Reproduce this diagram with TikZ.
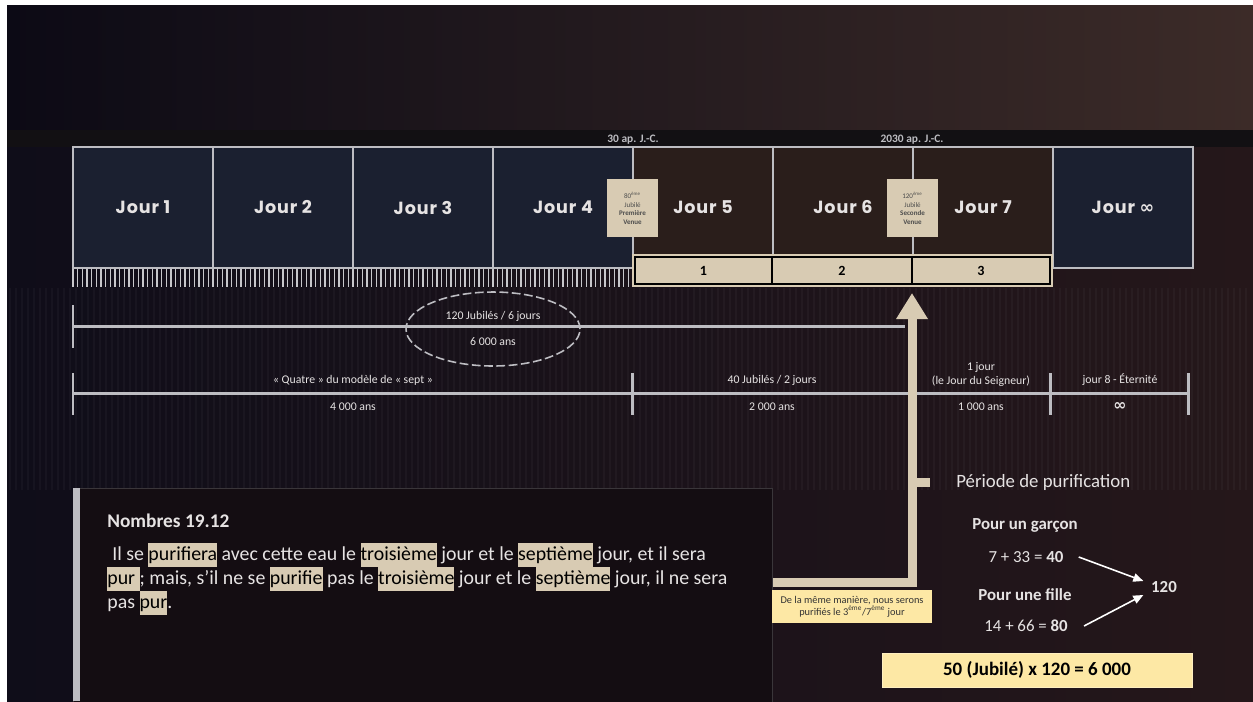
\documentclass[tikz,border=0pt]{standalone}
\usepackage{fontspec}
\setmainfont{Carlito}
\newfontfamily\jourfont{Poppins}[LetterSpace=5]
\newfontfamily\symbfont{DejaVu Sans}
\usetikzlibrary{positioning,arrows.meta,shapes.geometric}

\definecolor{navy}{HTML}{1B2030}
\definecolor{brun}{HTML}{2A1E1B}
\definecolor{sable}{HTML}{D8CBB3}
\definecolor{jaune}{HTML}{FDE8A5}
\definecolor{gris}{HTML}{BDBDC2}
\definecolor{grisfonce}{HTML}{3A363A}
\definecolor{boite}{HTML}{140D12}
\definecolor{fondG}{HTML}{0F0D19}
\definecolor{fondD}{HTML}{25171A}
\definecolor{hautG}{HTML}{0C0A15}
\definecolor{hautD}{HTML}{3C2B28}
\definecolor{bande}{HTML}{121013}
\definecolor{encre}{HTML}{E6E3E3}

\newcommand{\hl}[1]{\begingroup\setlength{\fboxsep}{0pt}\colorbox{sable}{\color{black}\strut#1}\endgroup}

\begin{document}
\begin{tikzpicture}[x=0.02cm, y=-0.02cm,
  jour/.style={draw=gris, line width=0.7pt, minimum width=2.8cm, minimum height=2.42cm,
    inner sep=0pt, text=encre, font=\jourfont\bfseries\fontsize{10}{12}\selectfont},
  venue/.style={fill=sable, minimum width=1.02cm, minimum height=1.16cm, inner sep=0pt,
    align=center, text=black!70, font=\fontsize{4}{4.8}\selectfont},
  chiffre/.style={draw=black, line width=1.1pt, fill=sable, minimum height=0.54cm,
    inner sep=0pt, font=\bfseries\fontsize{8}{9}\selectfont},
  date/.style={text=gris, inner sep=0pt, font=\bfseries\fontsize{6.5}{7}\selectfont},
  legende/.style={text=encre, inner sep=0pt, align=center, font=\fontsize{6.7}{8}\selectfont},
  regle/.style={gris, line width=1.7pt},
  ligne/.style={text=encre, inner sep=0pt, anchor=base west, font=\fontsize{11.3}{13.6}\selectfont},
  calcul/.style={text=encre, inner sep=0pt, font=\fontsize{9.6}{11}\selectfont},
  fleche/.style={sable, line width=0.18cm, -{Triangle[width=0.6cm,length=0.52cm]}},
  renvoi/.style={white, line width=0.9pt, -{Triangle[width=0.17cm,length=0.2cm]}}]
\useasboundingbox (0,0) rectangle (1253,701);

% fond
\fill[white] (0,0) rectangle (1253,701);
\shade[left color=fondG, right color=fondD] (7,5) rectangle (1253,701);
\shade[left color=hautG, right color=hautD] (7,5) rectangle (1253,130);
\fill[bande] (7,130) rectangle (1253,147);
\foreach \x in {10,16,...,1250}
  \draw[white, opacity=0.03, line width=0.05cm] (\x,288) -- (\x,490);

% les jours
\foreach \i in {0,...,209}
  \draw[gris!85, line width=0.03cm] ({73+\i*4.667},269) -- ++(0,18);
\foreach \k/\c/\t in {1/navy/1, 2/navy/2, 3/navy/3, 4/navy/4,
                      5/brun/5, 6/brun/6, 7/brun/7, 8/navy/{\symbfont ∞}}
  \node[jour, fill=\c] (j\k) at ({143+140*(\k-1)}, 207.5) {Jour \t};

\node[date] (d30) at (633,140) {30 ap. J.-C.};
\node[date] (d2030) at (912,140) {2030 ap. J.-C.};

\node[venue] (v1) at (632.5,208) {80\textsuperscript{ème}\\Jubilé\\\textbf{Première}\\\textbf{Venue}};
\node[venue] (v2) at (912.5,208) {120\textsuperscript{ème}\\Jubilé\\\textbf{Seconde}\\\textbf{Venue}};

% millenaires 5 a 7
\fill[sable] (632,254) rectangle (1053,287);
\node[chiffre, minimum width=2.74cm] (c1) at (703.5,270.5) {1};
\node[chiffre, minimum width=2.8cm] (c2) at (842,270.5) {2};
\node[chiffre, minimum width=2.76cm] (c3) at (981,270.5) {3};

% 6 000 ans
\coordinate (a0) at (73,326);
\coordinate (a1) at (905,326);
\draw[regle] (a0) -- (a1);
\draw[regle] (73,305) -- (73,348);
\node[ellipse, draw=gris, dash pattern=on 5pt off 2pt, line width=0.9pt, minimum width=3.48cm,
  minimum height=1.48cm] (jubiles) at (493,329) {};
\node[legende] (t120) at (493,316) {120 Jubilés / 6 jours};
\node[legende] (t6000) at (493,342) {6 000 ans};

% periodes
\draw[regle] (73,393) -- (1188,393);
\foreach \x in {73,632,1050,1188}
  \draw[regle] (\x,373) -- (\x,415);
\node[legende] (quatre) at (353,380) {« Quatre » du modèle de « sept »};
\node[legende] (t4000) at (353,407) {4 000 ans};
\node[legende] (t40) at (772,380) {40 Jubilés / 2 jours};
\node[legende] (t2000) at (772,407) {2 000 ans};
\node[legende] (seigneur) at (981,374) {1 jour\\(le Jour du Seigneur)};
\node[legende] (t1000) at (981,407) {1 000 ans};
\node[legende] (eternite) at (1120,380) {jour 8 - Éternité};
\node[legende, font=\symbfont\bfseries\fontsize{9}{9}\selectfont] (infini) at (1120,406) {∞};

% texte biblique
\node[draw=grisfonce, fill=boite, line width=0.8pt, anchor=north west, inner sep=0pt,
  minimum width=13.98cm, minimum height=4.4cm] (texte) at (73,488) {};
\fill[gris] (73,488) rectangle (80,701);
\node[ligne, font=\bfseries\fontsize{11}{13}\selectfont] (titre) at (107,527) {Nombres 19.12};
\node[ligne] (l1) at (107,560) {\hspace{.25em}Il se \hl{purifiera} avec cette eau le \hl{troisième} jour et le \hl{septième} jour, et il sera};
\node[ligne] (l2) at (107,584) {\hl{pur }; mais, s’il ne se \hl{purifie} pas le \hl{troisième} jour et le \hl{septième} jour, il ne sera};
\node[ligne] (l3) at (107,608) {pas \hl{pur}.};

% fleche de purification
\coordinate (coude) at (912,582);
\coordinate (pointe) at (912,293);
\draw[fleche] (texte.east |- coude) -- (coude) -- (pointe);
\draw[sable, line width=0.18cm] (912,482.5) -- (930,482.5);

\node[fill=jaune, minimum width=3.2cm, minimum height=0.66cm, inner sep=0pt, align=center,
  text=black!80, font=\fontsize{5.9}{7}\selectfont] (note) at (852,606.5)
  {De la même manière, nous serons\\purifiés le 3\textsuperscript{ème}/7\textsuperscript{ème} jour};

% periode de purification
\node[text=encre, inner sep=0pt, anchor=west, font=\fontsize{10.7}{12}\selectfont] (periode) at (956,482) {Période de purification};
\node[calcul, font=\bfseries\fontsize{9.6}{11}\selectfont] (garcon) at (1025,525) {Pour un garçon};
\node[calcul] (n40) at (1026,557) {7 + 33 = \textbf{40}};
\node[calcul, font=\bfseries\fontsize{9.6}{11}\selectfont] (fille) at (1025,595) {Pour une fille};
\node[calcul] (n80) at (1026,626) {14 + 66 = \textbf{80}};
\node[calcul, inner sep=0.15cm, font=\bfseries\fontsize{9.6}{11}\selectfont] (n120) at (1164,587) {120};
\draw[renvoi] ([xshift=0.3cm]n40.east) -- ([yshift=0.12cm]n120.west);
\draw[renvoi] ([xshift=0.32cm]n80.east) -- ([yshift=-0.16cm]n120.west);

\node[fill=jaune, draw=jaune!70!white, minimum width=6.2cm, minimum height=0.68cm, inner sep=0pt,
  font=\bfseries\fontsize{10.8}{12}\selectfont] (total) at (1037,670) {50 (Jubilé) x 120 = 6 000};
\end{tikzpicture}
\end{document}
